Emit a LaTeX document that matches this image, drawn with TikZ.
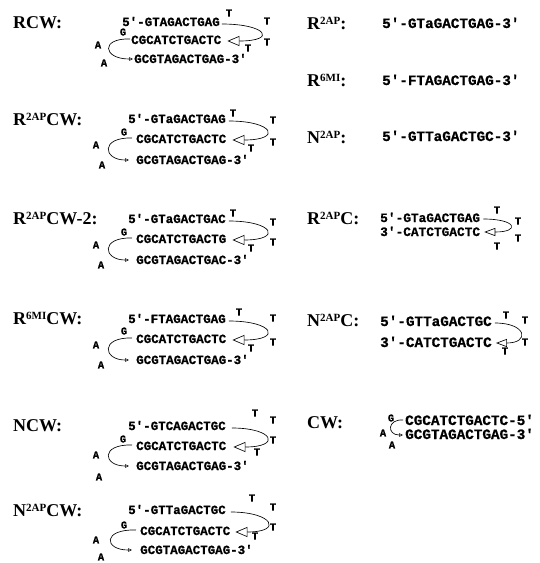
\documentclass[tikz,border=0pt]{standalone}
\usepackage{fontspec}
\setmainfont{Liberation Serif}
\newfontfamily\seqfam[BoldFeatures={FakeBold=0.8}]{Liberation Mono}
\usetikzlibrary{arrows.meta}
\tikzset{
  lbl/.style={font=\bfseries\fontsize{18}{20}\selectfont, anchor=base west, inner sep=0pt},
  strandL/.style={font=\seqfam\bfseries\fontsize{12.5}{14}\selectfont, anchor=base west, inner sep=0pt},
  strandR/.style={font=\seqfam\bfseries\fontsize{14.3}{16}\selectfont, anchor=base west, inner sep=0pt},
  strandS/.style={font=\seqfam\bfseries\fontsize{12.8}{14}\selectfont, anchor=base west, inner sep=0pt},
  loopnt/.style={font=\seqfam\bfseries\fontsize{10.5}{11}\selectfont, inner sep=0pt},
  turnarrow/.style={line width=0.65pt, -{Triangle[open, length=12pt, width=10pt, line width=0.65pt]}},
  smallturn/.style={line width=0.65pt, -{Triangle[open, length=11pt, width=8pt, line width=0.65pt]}},
  hookarrow/.style={line width=0.65pt, -{Triangle[open, length=4pt, width=3.5pt, line width=0.5pt]}},
}
% superscript tag on a construct name
\newcommand{\tagsup}[1]{\raisebox{4.5pt}{\fontsize{11}{11}\selectfont #1}}

\begin{document}
\begin{tikzpicture}[x=1pt, y=-1pt]
\useasboundingbox (0,0) rectangle (539,563);
\fill[white] (0,0) rectangle (539,563);

% ---------------- left column: hairpin constructs ----------------
% RCW
\node[lbl] (nRCW) at (13,28) {RCW:};
\node[strandL] (a1) at (122,26) {5′-GTAGACTGAG};
\node[strandL] (a2) at (131,44) {CGCATCTGACTC};
\node[strandL] (a3) at (134,63) {GCGTAGACTGAG-3′};
\node[loopnt] (at1) at (229,13) {T};
\node[loopnt] (at2) at (267,21) {T};
\node[loopnt] (at3) at (267,42) {T};
\node[loopnt] (at4) at (248,48) {T};
\node[loopnt] (ag) at (123,32) {G};
\node[loopnt] (aa1) at (98,45) {A};
\node[loopnt] (aa2) at (104,63) {A};
\draw[turnarrow] ([xshift=2pt,yshift=2pt]a1.base east) .. controls +(45,0) and +(50,0) .. ([xshift=6pt,yshift=3pt]a2.base east);
\draw[hookarrow] ([xshift=-1pt,yshift=5pt]a2.base west) .. controls +(-30,-1) and +(-30,0) .. ([xshift=-1pt,yshift=4pt]a3.base west);

% R2AP CW
\node[lbl] (nR2CW) at (13,125) {R\tagsup{2AP}CW:};
\node[strandL] (b1) at (128,123) {5′-GTaGACTGAG};
\node[strandL] (b2) at (136,143) {CGCATCTGACTC};
\node[strandL] (b3) at (136,164) {GCGTAGACTGAG-3′};
\node[loopnt] (bt1) at (233,113) {T};
\node[loopnt] (bt2) at (273,120) {T};
\node[loopnt] (bt3) at (273,142) {T};
\node[loopnt] (bt4) at (251,148) {T};
\node[loopnt] (bg) at (124,132) {G};
\node[loopnt] (ba1) at (96,145) {A};
\node[loopnt] (ba2) at (102,165) {A};
\draw[turnarrow] ([xshift=3pt,yshift=2pt]b1.base east) .. controls +(45,0) and +(50,0) .. ([xshift=6pt,yshift=3pt]b2.base east);
\draw[hookarrow] ([xshift=-4pt,yshift=5pt]b2.base west) .. controls +(-32,-1) and +(-26,0) .. ([xshift=-7pt,yshift=4pt]b3.base west);

% R2AP CW-2
\node[lbl] (nR2CW2) at (13,224) {R\tagsup{2AP}CW-2:};
\node[strandL] (c1) at (128,223) {5′-GTaGACTGAC};
\node[strandL] (c2) at (136,243) {CGCATCTGACTG};
\node[strandL] (c3) at (136,264) {GCGTAGACTGAC-3′};
\node[loopnt] (ct1) at (233,213) {T};
\node[loopnt] (ct2) at (273,222) {T};
\node[loopnt] (ct3) at (273,242) {T};
\node[loopnt] (ct4) at (251,248) {T};
\node[loopnt] (cg) at (124,232) {G};
\node[loopnt] (ca1) at (96,245) {A};
\node[loopnt] (ca2) at (101,265) {A};
\draw[turnarrow] ([xshift=3pt,yshift=2pt]c1.base east) .. controls +(45,0) and +(50,0) .. ([xshift=6pt,yshift=3pt]c2.base east);
\draw[hookarrow] ([xshift=-4pt,yshift=5pt]c2.base west) .. controls +(-32,-1) and +(-26,0) .. ([xshift=-7pt,yshift=4pt]c3.base west);

% R6MI CW
\node[lbl] (nR6CW) at (13,324) {R\tagsup{6MI}CW:};
\node[strandL] (d1) at (128,323) {5′-FTAGACTGAG};
\node[strandL] (d2) at (136,343) {CGCATCTGACTC};
\node[strandL] (d3) at (136,364) {GCGTAGACTGAG-3′};
\node[loopnt] (dt1) at (239,312) {T};
\node[loopnt] (dt2) at (273,318) {T};
\node[loopnt] (dt3) at (273,342) {T};
\node[loopnt] (dt4) at (251,348) {T};
\node[loopnt] (dg) at (124,331) {G};
\node[loopnt] (da1) at (96,345) {A};
\node[loopnt] (da2) at (101,365) {A};
\draw[turnarrow] ([xshift=3pt,yshift=2pt]d1.base east) .. controls +(45,0) and +(50,0) .. ([xshift=6pt,yshift=3pt]d2.base east);
\draw[hookarrow] ([xshift=-4pt,yshift=5pt]d2.base west) .. controls +(-32,-1) and +(-26,0) .. ([xshift=-7pt,yshift=4pt]d3.base west);

% NCW
\node[lbl] (nNCW) at (13,431) {NCW:};
\node[strandL] (e1) at (128,430) {5′-GTCAGACTGC};
\node[strandL] (e2) at (136,450) {CGCATCTGACTC};
\node[strandL] (e3) at (136,470) {GCGTAGACTGAG-3′};
\node[loopnt] (et1) at (255,413) {T};
\node[loopnt] (et2) at (273,420) {T};
\node[loopnt] (et3) at (273,440) {T};
\node[loopnt] (et4) at (257,452) {T};
\node[loopnt] (eg) at (123,439) {G};
\node[loopnt] (ea1) at (96,455) {A};
\node[loopnt] (ea2) at (99,477) {A};
\draw[turnarrow] ([xshift=6pt,yshift=2pt]e1.base east) .. controls +(42,0) and +(48,0) .. ([xshift=7pt,yshift=3pt]e2.base east);
\draw[hookarrow] ([xshift=-4pt,yshift=5pt]e2.base west) .. controls +(-32,-1) and +(-26,0) .. ([xshift=-7pt,yshift=4pt]e3.base west);

% N2AP CW
\node[lbl] (nN2CW) at (13,516) {N\tagsup{2AP}CW:};
\node[strandL] (f1) at (128,514) {5′-GTTaGACTGC};
\node[strandL] (f2) at (140,535) {CGCATCTGACTC};
\node[strandL] (f3) at (140,554) {GCGTAGACTGAG-3′};
\node[loopnt] (ft1) at (252,498) {T};
\node[loopnt] (ft2) at (273,507) {T};
\node[loopnt] (ft3) at (273,527) {T};
\node[loopnt] (ft4) at (255,536) {T};
\node[loopnt] (fg) at (124,525) {G};
\node[loopnt] (fa1) at (96,540) {A};
\node[loopnt] (fa2) at (101,557) {A};
\draw[turnarrow] ([xshift=5pt,yshift=2pt]f1.base east) .. controls +(42,0) and +(48,0) .. ([xshift=5pt,yshift=3pt]f2.base east);
\draw[hookarrow] ([xshift=-4pt,yshift=5pt]f2.base west) .. controls +(-34,-1) and +(-28,0) .. ([xshift=-8pt,yshift=4pt]f3.base west);

% ---------------- right column ----------------
\node[lbl] (nR2) at (307,29) {R\tagsup{2AP}:};
\node[strandR] (g1) at (382,28) {5′-GTaGACTGAG-3′};

\node[lbl] (nR6) at (307,86) {R\tagsup{6MI}:};
\node[strandR] (h1) at (382,85) {5′-FTAGACTGAG-3′};

\node[lbl] (nN2) at (307,143) {N\tagsup{2AP}:};
\node[strandR] (i1) at (382,141) {5′-GTTaGACTGC-3′};

% R2AP C
\node[lbl] (nR2C) at (307,224) {R\tagsup{2AP}C:};
\node[strandS] (j1) at (380,222) {5′-GTaGACTGAG};
\node[strandS] (j2) at (380,236) {3′-CATCTGACTC};
\node[loopnt] (jt1) at (497,210) {T};
\node[loopnt] (jt2) at (518,221) {T};
\node[loopnt] (jt3) at (518,238) {T};
\node[loopnt] (jt4) at (497,246) {T};
\draw[smallturn] ([xshift=3pt,yshift=3pt]j1.base east) .. controls +(34,0) and +(36,0) .. ([xshift=4pt,yshift=4pt]j2.base east);

% N2AP C
\node[lbl] (nN2C) at (307,326) {N\tagsup{2AP}C:};
\node[strandR] (k1) at (380,326) {5′-GTTaGACTGC};
\node[strandR] (k2) at (380,347) {3′-CATCTGACTC};
\node[loopnt] (kt1) at (506,315) {T};
\node[loopnt] (kt2) at (525,320) {T};
\node[loopnt] (kt3) at (525,342) {T};
\node[loopnt] (kt4) at (505,351) {T};
\draw[smallturn] ([xshift=3pt,yshift=3pt]k1.base east) .. controls +(32,0) and +(34,0) .. ([xshift=4pt,yshift=4pt]k2.base east);

% CW
\node[lbl] (nCW) at (307,428) {CW:};
\node[strandR] (m1) at (405,425) {CGCATCTGACTC-5′};
\node[strandR] (m2) at (405,439) {GCGTAGACTGAG-3′};
\node[loopnt] (mg) at (391,418) {G};
\node[loopnt] (ma1) at (383,433) {A};
\node[loopnt] (ma2) at (392,445) {A};
\draw[hookarrow] ([xshift=-2pt,yshift=5pt]m1.base west) .. controls +(-16,-1) and +(-16,0) .. ([xshift=-2pt,yshift=4pt]m2.base west);
\end{tikzpicture}
\end{document}
